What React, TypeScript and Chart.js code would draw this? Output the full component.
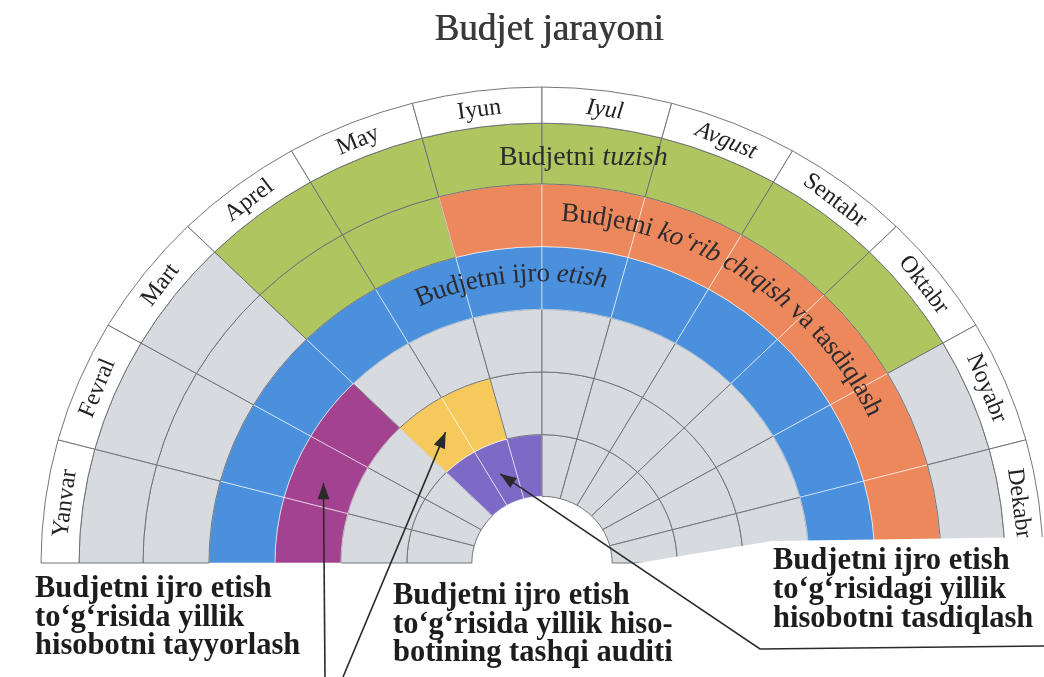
import React, { useEffect, useRef } from 'react';
import { Chart, registerables } from 'chart.js';

Chart.register(...registerables);

// ---------- data ----------
const chartTitle = 'Budjet jarayoni';
const months = ['Yanvar', 'Fevral', 'Mart', 'Aprel', 'May', 'Iyun', 'Iyul', 'Avgust', 'Sentabr', 'Oktabr', 'Noyabr', 'Dekabr'];
const italicMonths = ['Iyul', 'Avgust'];
const monthSpan = [1, 1, 1, 1, 1, 1, 1, 1, 1, 1, 1, 1];

// stage code per month, ring by ring (outer -> inner)
// L = month label, - = empty, T = tuzish, K = ko'rib chiqish, I = ijro etish,
// H = hisobot tayyorlash, A = tashqi audit, S = hisobot tasdiqlash
const ringLabels = ['L', 'L', 'L', 'L', 'L', 'L', 'L', 'L', 'L', 'L', 'L', 'L'];
const ringTuzish = ['-', '-', '-', 'T', 'T', 'T', 'T', 'T', 'T', 'T', '-', '-'];
const ringKorib = ['-', '-', '-', 'T', 'T', 'K', 'K', 'K', 'K', 'K', 'K', 'K'];
const ringIjro = ['I', 'I', 'I', 'I', 'I', 'I', 'I', 'I', 'I', 'I', 'I', 'I'];
const ringTayyor = ['H', 'H', 'H', '-', '-', '-', '-', '-', '-', '-', '-', '-'];
const ringAudit = ['-', '-', '-', 'A', 'A', '-', '-', '-', '-', '-', '-', '-'];
const ringTasdiq = ['-', '-', '-', 'S', 'S', 'S', '-', '-', '-', '-', '-', '-'];

const bandTuzish: [string, boolean][] = [['Budjetni ', false], ['tuzish', true]];
const bandKorib: [string, boolean][] = [['Budjetni ', false], ['ko‘rib chiqish', true], [' va tasdiqlash', false]];
const bandIjro: [string, boolean][] = [['Budjetni ijro ', false], ['etish', true]];

const noteTayyor = ['Budjetni ijro etish', 'to‘g‘risida yillik', 'hisobotni tayyorlash'];
const noteAudit = ['Budjetni ijro etish', 'to‘g‘risida yillik hiso-', 'botining tashqi auditi'];
const noteTasdiq = ['Budjetni ijro etish', 'to‘g‘risidagi yillik', 'hisobotni tasdiqlash'];

// ---------- styles ----------
const COLORS: Record<string, string> = {
  L: '#ffffff',
  '-': '#d7dadf',
  T: '#afc560',
  K: '#ec885b',
  I: '#4b90dc',
  H: '#a3428f',
  A: '#f6c95d',
  S: '#7c6ac6',
};
const SERIF = '"Liberation Serif", "DejaVu Serif", serif';
const SY = 0.95;
const R = 501;
const CX = 542;
const CY = 563;

const rings = [ringLabels, ringTuzish, ringKorib, ringIjro, ringTayyor, ringAudit, ringTasdiq];
const ringWeights = [38, 64, 66, 66, 66, 66, 65];

function drawArcText(ctx: CanvasRenderingContext2D, parts: [string, boolean][], cx: number, cy: number, r: number, aCenter: number, size: number) {
  let total = 0;
  for (const [t, it] of parts) {
    ctx.font = `${it ? 'italic ' : ''}${size}px ${SERIF}`;
    for (const ch of Array.from(t)) total += ctx.measureText(ch).width;
  }
  drawArcTextFrom(ctx, parts, cx, cy, r, aCenter - total / 2 / r, size);
}

function drawArcTextFrom(ctx: CanvasRenderingContext2D, parts: [string, boolean][], cx: number, cy: number, r: number, aStart: number, size: number) {
  let a = aStart;
  for (const [t, it] of parts) {
    ctx.font = `${it ? 'italic ' : ''}${size}px ${SERIF}`;
    for (const ch of Array.from(t)) {
      const w = ctx.measureText(ch).width;
      const mid = a + w / 2 / r;
      ctx.save();
      ctx.translate(cx + r * Math.cos(mid), cy + r * SY * Math.sin(mid));
      ctx.rotate(mid + Math.PI / 2);
      ctx.fillText(ch, 0, 0);
      ctx.restore();
      a += w / r;
    }
  }
}

function drawArrow(ctx: CanvasRenderingContext2D, pts: [number, number][]) {
  ctx.save();
  ctx.strokeStyle = '#2a2a2a';
  ctx.fillStyle = '#2a2a2a';
  ctx.lineWidth = 1.6;
  ctx.beginPath();
  ctx.moveTo(pts[0][0], pts[0][1]);
  for (let i = 1; i < pts.length; i++) ctx.lineTo(pts[i][0], pts[i][1]);
  ctx.stroke();
  const [x1, y1] = pts[pts.length - 2];
  const [x2, y2] = pts[pts.length - 1];
  const ang = Math.atan2(y2 - y1, x2 - x1);
  const L = 16, W = 6;
  ctx.beginPath();
  ctx.moveTo(x2, y2);
  ctx.lineTo(x2 - L * Math.cos(ang) + W * Math.sin(ang), y2 - L * Math.sin(ang) - W * Math.cos(ang));
  ctx.lineTo(x2 - L * Math.cos(ang) - W * Math.sin(ang), y2 - L * Math.sin(ang) + W * Math.cos(ang));
  ctx.closePath();
  ctx.fill();
  ctx.restore();
}

const overlay = {
  id: 'overlay',
  beforeDatasetsDraw(chart: any) {
    const el = chart.getDatasetMeta(0).data[0];
    const ctx = chart.ctx;
    ctx.save();
    ctx.translate(el.x, el.y);
    ctx.scale(1, SY);
    ctx.translate(-el.x, -el.y);
  },
  afterDatasetsDraw(chart: any) {
    const ctx: CanvasRenderingContext2D = chart.ctx;
    ctx.restore();
    const metas = rings.map((_, i) => chart.getDatasetMeta(i).data as any[]);
    const cx = metas[0][0].x;
    const cy = metas[0][0].y;
    const midR = (i: number) => (metas[i][0].outerRadius + metas[i][0].innerRadius) / 2;
    const pt = (i: number, phiDeg: number): [number, number] => {
      const a = -Math.PI + (phiDeg * Math.PI) / 180;
      return [cx + midR(i) * Math.cos(a), cy + midR(i) * SY * Math.sin(a)];
    };

    // title
    ctx.save();
    ctx.fillStyle = '#3a3a3a';
    ctx.font = `37px ${SERIF}`;
    ctx.textAlign = 'center';
    ctx.textBaseline = 'alphabetic';
    ctx.fillText(chartTitle, 549, 40);
    ctx.fillText(chartTitle, 549.6, 40);
    ctx.restore();

    // month labels
    ctx.save();
    ctx.fillStyle = '#222';
    ctx.textAlign = 'center';
    ctx.textBaseline = 'middle';
    const rl = midR(0);
    metas[0].forEach((arc: any, i: number) => {
      const a = (arc.startAngle + arc.endAngle) / 2;
      ctx.save();
      ctx.translate(cx + rl * Math.cos(a), cy + rl * SY * Math.sin(a));
      ctx.rotate(a + Math.PI / 2);
      ctx.font = `${italicMonths.includes(months[i]) ? 'italic ' : ''}24px ${SERIF}`;
      ctx.fillText(months[i], 0, 1);
      ctx.restore();
    });

    // band texts
    ctx.fillStyle = '#2c2c30';
    {
      const [x, y] = pt(1, 95.5);
      let total = 0;
      for (const [t, it] of bandTuzish) {
        ctx.font = `${it ? 'italic ' : ''}28px ${SERIF}`;
        total += ctx.measureText(t).width;
      }
      ctx.textAlign = 'left';
      let xx = x - total / 2;
      for (const [t, it] of bandTuzish) {
        ctx.font = `${it ? 'italic ' : ''}28px ${SERIF}`;
        ctx.fillText(t, xx, y + 2);
        xx += ctx.measureText(t).width;
      }
      ctx.textAlign = 'center';
    }
    drawArcTextFrom(ctx, bandKorib, cx, cy, midR(2) + 2, -Math.PI + (93 * Math.PI) / 180, 27);
    drawArcText(ctx, bandIjro, cx, cy, midR(3) + 4, -Math.PI + (84 * Math.PI) / 180, 27);
    ctx.restore();

    // white box behind right annotation
    ctx.save();
    ctx.fillStyle = '#ffffff';
    ctx.beginPath();
    ctx.moveTo(612, 677);
    ctx.lineTo(614, 567);
    ctx.lineTo(772, 541);
    ctx.lineTo(1044, 537);
    ctx.lineTo(1044, 677);
    ctx.closePath();
    ctx.fill();
    ctx.restore();

    // annotations
    ctx.save();
    ctx.fillStyle = '#1d1d1d';
    ctx.font = `bold 30.5px ${SERIF}`;
    ctx.textAlign = 'left';
    ctx.textBaseline = 'alphabetic';
    noteTayyor.forEach((l, i) => ctx.fillText(l, 35, 597 + i * 28.5));
    noteAudit.forEach((l, i) => ctx.fillText(l, 393, 604 + i * 28.5));
    noteTasdiq.forEach((l, i) => ctx.fillText(l, 773, 569 + i * 29));
    ctx.restore();

    // arrows
    drawArrow(ctx, [[325, 677], pt(4, 21)]);
    drawArrow(ctx, [[343, 677], pt(5, 55)]);
    drawArrow(ctx, [[1044, 646], [760, 649], pt(6, 66)]);
  },
};

export default function App() {
  const ref = useRef<HTMLCanvasElement | null>(null);
  useEffect(() => {
    if (!ref.current) return;
    const spacing = 1;
    const W = 2 * R + spacing;
    const H = R + spacing;
    const left = CX - R - spacing / 2;
    const top = CY - R - spacing / 2;
    const chart = new Chart(ref.current, {
      type: 'doughnut',
      data: {
        labels: months,
        datasets: rings.map((ring, i) => ({
          data: monthSpan,
          backgroundColor: ring.map((c) => COLORS[c]),
          borderColor: ring.map((c) => (c === '-' || c === 'L' || c === 'T' ? '#6f7276' : 'rgba(255,255,255,0.55)')),
          borderWidth: 1,
          hoverBorderWidth: 1,
          hoverOffset: 0,
          offset: 0,
          weight: ringWeights[i],
        })),
      },
      options: {
        animation: false,
        responsive: true,
        maintainAspectRatio: false,
        rotation: -90,
        circumference: 180,
        cutout: '14%',
        events: [],
        layout: {
          padding: { left, top, right: 1044 - left - W, bottom: 677 - top - H },
        },
        plugins: {
          legend: { display: false },
          tooltip: { enabled: false },
          title: { display: false },
        },
      } as any,
      plugins: [overlay as any],
    });
    return () => chart.destroy();
  }, []);
  return (
    <div style={{ position: 'fixed', left: 0, top: 0, width: 1044, height: 677, background: '#fff' }}>
      <canvas ref={ref} />
    </div>
  );
}
